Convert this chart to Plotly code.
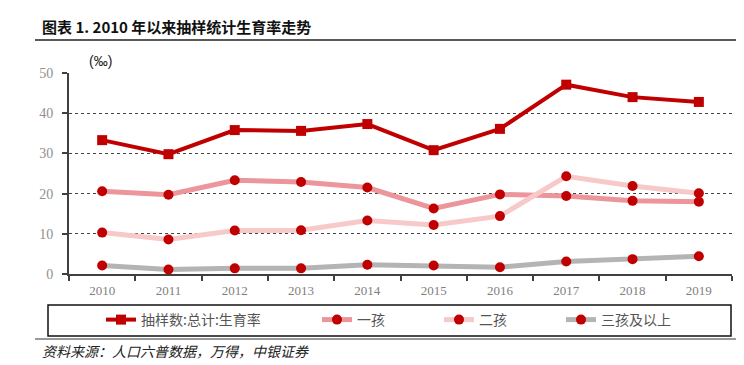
import plotly.graph_objects as go

years = ["2010", "2011", "2012", "2013", "2014", "2015", "2016", "2017", "2018", "2019"]
total_rate = [33.3, 29.8, 35.8, 35.6, 37.3, 30.8, 36.1, 47.1, 44.0, 42.8]
first_child = [20.6, 19.7, 23.3, 22.9, 21.5, 16.3, 19.8, 19.4, 18.2, 18.0]
second_child = [10.3, 8.6, 10.8, 10.9, 13.3, 12.2, 14.4, 24.3, 21.9, 20.1]
third_plus = [2.1, 1.1, 1.4, 1.4, 2.3, 2.1, 1.7, 3.1, 3.7, 4.4]
y_ticks = [0, 10, 20, 30, 40, 50]

# page body has an 8px margin; figure is shrunk so it fills the 744x365 window
OFF = 8
W, H = 744 - OFF, 365 - OFF
L, T = 69 - OFF, 73 - OFF
R = W - (732 - OFF)
B = H - (274 - OFF)
PW, PH = W - L - R, H - T - B

def px_x(x):
    return (x - OFF - L) / PW

def px_y(y):
    return (H - B - (y - OFF)) / PH

RED = "#C00000"
series = [
    ("抽样数:总计:生育率", total_rate, RED, "square", 4, "legend"),
    ("一孩", first_child, "#EC959B", "circle", 5, "legend2"),
    ("二孩", second_child, "#F7C9C9", "circle", 5, "legend3"),
    ("三孩及以上", third_plus, "#B4B4B4", "circle", 5, "legend4"),
]

fig = go.Figure()
for name, vals, col, sym, lw, lg in series:
    fig.add_trace(go.Scatter(
        x=years, y=vals, name=name, mode="lines+markers",
        line=dict(color=col, width=lw),
        marker=dict(color=RED, symbol=sym, size=10),
        legend=lg,
    ))

legend_font = dict(family="Noto Sans CJK SC", size=14, color="#555555")
leg_x = [101, 317, 439, 561]
layout_legends = {}
for i, lx in enumerate(leg_x):
    key = "legend" if i == 0 else f"legend{i+1}"
    layout_legends[key] = dict(
        x=px_x(lx), y=px_y(320), xanchor="left", yanchor="middle",
        orientation="h", font=legend_font, bgcolor="rgba(0,0,0,0)",
        borderwidth=0, itemwidth=30,
    )

fig.update_layout(
    width=W, height=H,
    margin=dict(l=L, r=R, t=T, b=B, autoexpand=False),
    paper_bgcolor="white", plot_bgcolor="white",
    showlegend=True,
    **layout_legends,
    xaxis=dict(
        type="category", range=[-0.5, 9.5],
        showline=True, linecolor="#404040", linewidth=2,
        ticks="outside", tickson="boundaries", ticklen=5, tickcolor="#404040", tickwidth=1.5,
        showgrid=False, zeroline=False, ticklabelstandoff=3,
        tickfont=dict(family="Liberation Serif", size=13, color="#808080"),
    ),
    yaxis=dict(
        range=[0, 50], tickvals=y_ticks,
        showline=True, linecolor="#404040", linewidth=2,
        ticks="outside", ticklen=5, tickcolor="#404040", tickwidth=1.5,
        showgrid=True, gridcolor="#444444", gridwidth=1, griddash="dot",
        zeroline=False, ticklabelstandoff=6,
        tickfont=dict(family="Liberation Serif", size=14, color="#909090"),
    ),
    shapes=[
        dict(type="line", xref="paper", yref="paper", x0=px_x(35), x1=px_x(744), y0=px_y(40), y1=px_y(40),
             line=dict(color="#222222", width=1.5)),
        dict(type="rect", xref="paper", yref="paper", x0=px_x(48), x1=px_x(731), y0=px_y(305), y1=px_y(336),
             line=dict(color="#111111", width=1.5), fillcolor="rgba(0,0,0,0)"),
        dict(type="line", xref="paper", yref="paper", x0=px_x(35), x1=px_x(744), y0=px_y(339), y1=px_y(339),
             line=dict(color="#999999", width=2)),
    ],
    annotations=[
        dict(text="<b>图表 1. 2010 年以来抽样统计生育率走势</b>", xref="paper", yref="paper",
             x=px_x(40), y=px_y(26), xanchor="left", yanchor="middle", showarrow=False,
             font=dict(family="Noto Sans CJK SC", size=15, color="#111111")),
        dict(text="(‰)", xref="paper", yref="paper", x=px_x(100), y=px_y(61),
             xanchor="center", yanchor="middle", showarrow=False,
             font=dict(family="Liberation Sans", size=14, color="#222222")),
        dict(text="<i>资料来源：人口六普数据，万得，中银证券</i>", xref="paper", yref="paper",
             x=px_x(40), y=px_y(351), xanchor="left", yanchor="middle", showarrow=False,
             font=dict(family="Noto Sans CJK SC", size=14, color="#222222")),
    ],
)

fig.write_html("out.html")
